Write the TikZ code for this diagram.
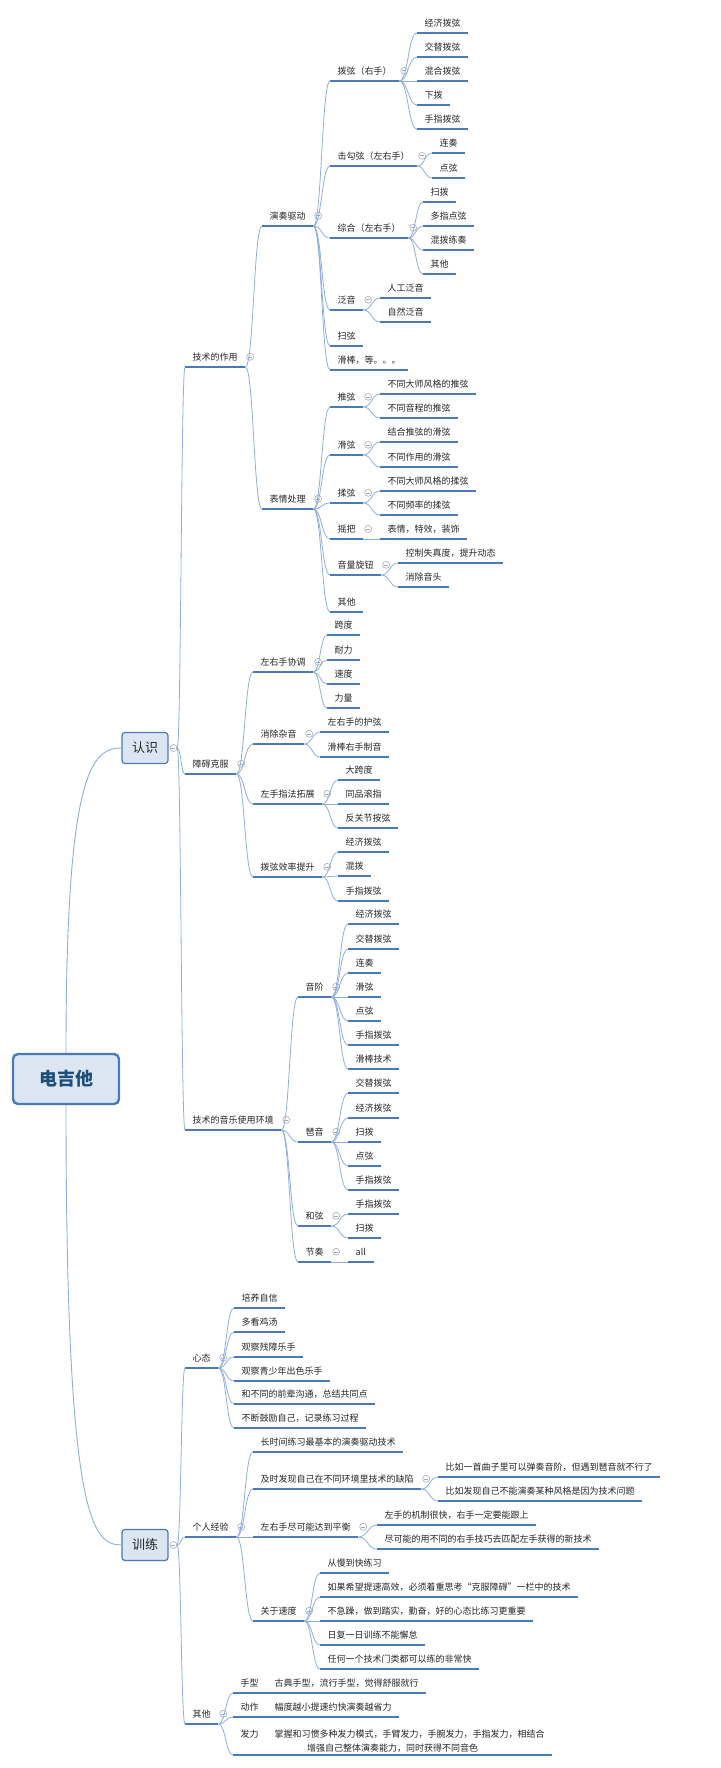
\documentclass[tikz,border=0pt]{standalone}
\usepackage{fontspec}
\newfontfamily\cjk{Noto Sans CJK SC}
\usetikzlibrary{calc}
\definecolor{Steel}{HTML}{4A7BB8}
\definecolor{Twig}{HTML}{8EAEDC}
\definecolor{Mist}{HTML}{DCE6F2}
\definecolor{Navy}{HTML}{1F4E79}
\definecolor{Ash}{HTML}{A3ABB8}
\definecolor{Ink}{HTML}{262626}

\begin{document}
\begin{tikzpicture}[x=1pt, y=-1pt,
    topic/.style={font=\cjk\fontsize{9}{14}\selectfont, text=Ink, anchor=south west,
      inner xsep=7.5pt, inner ysep=2pt, minimum height=20pt,
      append after command={(\tikzlastnode.south west) edge[uline] (\tikzlastnode.south east)}},
    uline/.style={draw=Steel, line width=2.5pt},
    fold/.style={circle, draw=Ash, fill=white, line width=0.6pt, inner sep=0pt, minimum size=7pt,
      path picture={\draw[Ash, line width=0.6pt] ([xshift=-2pt]path picture bounding box.center) -- ([xshift=2pt]path picture bounding box.center);}},
    parent/.style={label={[fold, label distance=1pt]0:{}}},
    rootbox/.style={draw=Steel, line width=2.4pt, fill=Mist, rounded corners=5pt,
      minimum width=106pt, minimum height=50pt, text=Navy, font=\cjk\bfseries\fontsize{18}{20}\selectfont},
    section/.style={draw=Steel, line width=1.2pt, fill=Mist, rounded corners=3pt,
      minimum width=46pt, minimum height=31pt, text=Ink, font=\cjk\fontsize{13}{15}\selectfont},
    trunk/.style={draw=Twig, line width=0.9pt},
    branch/.style={draw=Twig, line width=0.8pt,
      to path={.. controls ($(\tikztostart)!0.5!(\tikztotarget |- \tikztostart)$) and ($(\tikztotarget)!0.5!(\tikztostart |- \tikztotarget)$) .. (\tikztotarget)}}
  ]
  \path[use as bounding box] (0,0) rectangle (720,1768);

  \node[rootbox] (guitar) at (66,1079) {电吉他};
  \node[section, label={[fold, label distance=1pt, name=knowf]0:{}}] (know) at (145,748) {认识};
  \node[section, label={[fold, label distance=1pt, name=trainf]0:{}}] (train) at (145,1545) {训练};

  \node[topic, parent] (role) at (185,367) {技术的作用};
  \node[topic, parent] (hurdle) at (185,774) {障碍克服};
  \node[topic, parent] (context) at (185,1130) {技术的音乐使用环境};

  \node[topic, parent] (drive) at (262,226) {演奏驱动};
  \node[topic, parent] (expr) at (262,509) {表情处理};

  \node[topic, parent] (pick) at (330,81) {拨弦（右手）};
  \node[topic, parent] (hammer) at (330,166) {击勾弦（左右手）};
  \node[topic, parent] (combo) at (330,238) {综合（左右手）};
  \node[topic, parent] (harm) at (330,310) {泛音};
  \node[topic] (sweep) at (330,346) {扫弦};
  \node[topic] (slide) at (330,370) {滑棒，等。。。};

  \node[topic] (pick1) at (417,33) {经济拨弦};
  \node[topic] (pick2) at (417,57) {交替拨弦};
  \node[topic] (pick3) at (417,81) {混合拨弦};
  \node[topic] (pick4) at (417,105) {下拨};
  \node[topic] (pick5) at (417,129) {手指拨弦};
  \node[topic] (ham1) at (432,153) {连奏};
  \node[topic] (ham2) at (432,178) {点弦};
  \node[topic] (combo1) at (423,202) {扫拨};
  \node[topic] (combo2) at (423,226) {多指点弦};
  \node[topic] (combo3) at (423,250) {混拨练奏};
  \node[topic] (combo4) at (423,274) {其他};
  \node[topic] (harm1) at (380,298) {人工泛音};
  \node[topic] (harm2) at (380,322) {自然泛音};

  \node[topic, parent] (bend) at (330,407) {推弦};
  \node[topic, parent] (glide) at (330,455) {滑弦};
  \node[topic, parent] (vib) at (330,503) {揉弦};
  \node[topic, parent] (bar) at (330,539) {摇把};
  \node[topic, parent] (vol) at (330,575) {音量旋钮};
  \node[topic] (exother) at (330,612) {其他};

  \node[topic] (bend1) at (380,394) {不同大师风格的推弦};
  \node[topic] (bend2) at (380,418) {不同音程的推弦};
  \node[topic] (glide1) at (380,442) {结合推弦的滑弦};
  \node[topic] (glide2) at (380,467) {不同作用的滑弦};
  \node[topic] (vib1) at (380,491) {不同大师风格的揉弦};
  \node[topic] (vib2) at (380,515) {不同频率的揉弦};
  \node[topic] (bar1) at (380,539) {表情，特效，装饰};
  \node[topic] (vol1) at (398,563) {控制失真度，提升动态};
  \node[topic] (vol2) at (398,587) {消除音头};

  \node[topic, parent] (sync) at (253,672) {左右手协调};
  \node[topic, parent] (mute) at (253,744) {消除杂音};
  \node[topic, parent] (lhand) at (253,804) {左手指法拓展};
  \node[topic, parent] (rate) at (253,877) {拨弦效率提升};

  \node[topic] (sync1) at (327,635) {跨度};
  \node[topic] (sync2) at (327,660) {耐力};
  \node[topic] (sync3) at (327,684) {速度};
  \node[topic] (sync4) at (327,708) {力量};
  \node[topic] (mute1) at (320,732) {左右手的护弦};
  \node[topic] (mute2) at (320,757) {滑棒右手制音};
  \node[topic] (lhand1) at (338,780) {大跨度};
  \node[topic] (lhand2) at (338,804) {同品滚指};
  \node[topic] (lhand3) at (338,828) {反关节按弦};
  \node[topic] (rate1) at (338,852) {经济拨弦};
  \node[topic] (rate2) at (338,876) {混拨};
  \node[topic] (rate3) at (338,901) {手指拨弦};

  \node[topic, parent] (scale) at (298,997) {音阶};
  \node[topic, parent] (arp) at (298,1142) {琶音};
  \node[topic, parent] (chord) at (298,1226) {和弦};
  \node[topic, parent] (rhythm) at (298,1262) {节奏};

  \node[topic] (scale1) at (348,924) {经济拨弦};
  \node[topic] (scale2) at (348,949) {交替拨弦};
  \node[topic] (scale3) at (348,973) {连奏};
  \node[topic] (scale4) at (348,997) {滑弦};
  \node[topic] (scale5) at (348,1021) {点弦};
  \node[topic] (scale6) at (348,1045) {手指拨弦};
  \node[topic] (scale7) at (348,1069) {滑棒技术};
  \node[topic] (arp1) at (348,1093) {交替拨弦};
  \node[topic] (arp2) at (348,1118) {经济拨弦};
  \node[topic] (arp3) at (348,1142) {扫拨};
  \node[topic] (arp4) at (348,1166) {点弦};
  \node[topic] (arp5) at (348,1190) {手指拨弦};
  \node[topic] (chord1) at (348,1214) {手指拨弦};
  \node[topic] (chord2) at (348,1238) {扫拨};
  \node[topic] (rhythm1) at (348,1262) {all};

  \node[topic, parent] (mind) at (185,1368) {心态};
  \node[topic, parent] (exp) at (185,1537) {个人经验};
  \node[topic, parent] (misc) at (185,1724) {其他};

  \node[topic] (mind1) at (234,1308) {培养自信};
  \node[topic] (mind2) at (234,1332) {多看鸡汤};
  \node[topic] (mind3) at (234,1357) {观察残障乐手};
  \node[topic] (mind4) at (234,1381) {观察青少年出色乐手};
  \node[topic] (mind5) at (234,1404) {和不同的前辈沟通，总结共同点};
  \node[topic] (mind6) at (234,1428) {不断鼓励自己，记录练习过程};

  \node[topic] (exp1) at (253,1452) {长时间练习最基本的演奏驱动技术};
  \node[topic, parent] (exp2) at (253,1489) {及时发现自己在不同环境里技术的缺陷};
  \node[topic, parent] (exp3) at (253,1537) {左右手尽可能达到平衡};
  \node[topic, parent] (exp4) at (253,1621) {关于速度};

  \node[topic] (flaw1) at (438,1477) {比如一首曲子里可以弹奏音阶，但遇到琶音就不行了};
  \node[topic] (flaw2) at (438,1501) {比如发现自己不能演奏某种风格是因为技术问题};
  \node[topic] (bal1) at (377,1525) {左手的机制很快，右手一定要能跟上};
  \node[topic] (bal2) at (377,1549) {尽可能的用不同的右手技巧去匹配左手获得的新技术};
  \node[topic] (speed1) at (320,1573) {从慢到快练习};
  \node[topic] (speed2) at (320,1597) {如果希望提速高效，必须着重思考“克服障碍”一栏中的技术};
  \node[topic] (speed3) at (320,1621) {不急躁，做到踏实，勤奋，好的心态比练习更重要};
  \node[topic] (speed4) at (320,1645) {日复一日训练不能懈怠};
  \node[topic] (speed5) at (320,1669) {任何一个技术门类都可以练的非常快};

  \node[topic] (misc1) at (233,1693) {手型\hspace{16pt}古典手型，流行手型，觉得舒服就行};
  \node[topic] (misc2) at (233,1717) {动作\hspace{16pt}幅度越小提速约快演奏越省力};
  \node[topic, align=center] (misc3) at (233,1755) {发力\hspace{16pt}掌握和习惯多种发力模式，手臂发力，手腕发力，手指发力，相结合\\增强自己整体演奏能力，同时获得不同音色};

  \draw[trunk] (guitar.north) .. controls +(0,-280) and +(-30,0) .. (know.west);
  \draw[trunk] (guitar.south) .. controls +(0,410) and +(-30,0) .. (train.west);

  \draw[branch] (knowf.east) to (role.south west);
  \draw[branch] (knowf.east) to (hurdle.south west);
  \draw[branch] (knowf.east) to (context.south west);

  \draw[branch] (role.south east) to (drive.south west);
  \draw[branch] (role.south east) to (expr.south west);

  \draw[branch] (drive.south east) to (pick.south west);
  \draw[branch] (drive.south east) to (hammer.south west);
  \draw[branch] (drive.south east) to (combo.south west);
  \draw[branch] (drive.south east) to (harm.south west);
  \draw[branch] (drive.south east) to (sweep.south west);
  \draw[branch] (drive.south east) to (slide.south west);

  \draw[branch] (pick.south east) to (pick1.south west);
  \draw[branch] (pick.south east) to (pick2.south west);
  \draw[branch] (pick.south east) to (pick3.south west);
  \draw[branch] (pick.south east) to (pick4.south west);
  \draw[branch] (pick.south east) to (pick5.south west);
  \draw[branch] (hammer.south east) to (ham1.south west);
  \draw[branch] (hammer.south east) to (ham2.south west);
  \draw[branch] (combo.south east) to (combo1.south west);
  \draw[branch] (combo.south east) to (combo2.south west);
  \draw[branch] (combo.south east) to (combo3.south west);
  \draw[branch] (combo.south east) to (combo4.south west);
  \draw[branch] (harm.south east) to (harm1.south west);
  \draw[branch] (harm.south east) to (harm2.south west);

  \draw[branch] (expr.south east) to (bend.south west);
  \draw[branch] (expr.south east) to (glide.south west);
  \draw[branch] (expr.south east) to (vib.south west);
  \draw[branch] (expr.south east) to (bar.south west);
  \draw[branch] (expr.south east) to (vol.south west);
  \draw[branch] (expr.south east) to (exother.south west);

  \draw[branch] (bend.south east) to (bend1.south west);
  \draw[branch] (bend.south east) to (bend2.south west);
  \draw[branch] (glide.south east) to (glide1.south west);
  \draw[branch] (glide.south east) to (glide2.south west);
  \draw[branch] (vib.south east) to (vib1.south west);
  \draw[branch] (vib.south east) to (vib2.south west);
  \draw[branch] (bar.south east) to (bar1.south west);
  \draw[branch] (vol.south east) to (vol1.south west);
  \draw[branch] (vol.south east) to (vol2.south west);

  \draw[branch] (hurdle.south east) to (sync.south west);
  \draw[branch] (hurdle.south east) to (mute.south west);
  \draw[branch] (hurdle.south east) to (lhand.south west);
  \draw[branch] (hurdle.south east) to (rate.south west);

  \draw[branch] (sync.south east) to (sync1.south west);
  \draw[branch] (sync.south east) to (sync2.south west);
  \draw[branch] (sync.south east) to (sync3.south west);
  \draw[branch] (sync.south east) to (sync4.south west);
  \draw[branch] (mute.south east) to (mute1.south west);
  \draw[branch] (mute.south east) to (mute2.south west);
  \draw[branch] (lhand.south east) to (lhand1.south west);
  \draw[branch] (lhand.south east) to (lhand2.south west);
  \draw[branch] (lhand.south east) to (lhand3.south west);
  \draw[branch] (rate.south east) to (rate1.south west);
  \draw[branch] (rate.south east) to (rate2.south west);
  \draw[branch] (rate.south east) to (rate3.south west);

  \draw[branch] (context.south east) to (scale.south west);
  \draw[branch] (context.south east) to (arp.south west);
  \draw[branch] (context.south east) to (chord.south west);
  \draw[branch] (context.south east) to (rhythm.south west);

  \draw[branch] (scale.south east) to (scale1.south west);
  \draw[branch] (scale.south east) to (scale2.south west);
  \draw[branch] (scale.south east) to (scale3.south west);
  \draw[branch] (scale.south east) to (scale4.south west);
  \draw[branch] (scale.south east) to (scale5.south west);
  \draw[branch] (scale.south east) to (scale6.south west);
  \draw[branch] (scale.south east) to (scale7.south west);
  \draw[branch] (arp.south east) to (arp1.south west);
  \draw[branch] (arp.south east) to (arp2.south west);
  \draw[branch] (arp.south east) to (arp3.south west);
  \draw[branch] (arp.south east) to (arp4.south west);
  \draw[branch] (arp.south east) to (arp5.south west);
  \draw[branch] (chord.south east) to (chord1.south west);
  \draw[branch] (chord.south east) to (chord2.south west);
  \draw[branch] (rhythm.south east) to (rhythm1.south west);

  \draw[branch] (trainf.east) to (mind.south west);
  \draw[branch] (trainf.east) to (exp.south west);
  \draw[branch] (trainf.east) to (misc.south west);

  \draw[branch] (mind.south east) to (mind1.south west);
  \draw[branch] (mind.south east) to (mind2.south west);
  \draw[branch] (mind.south east) to (mind3.south west);
  \draw[branch] (mind.south east) to (mind4.south west);
  \draw[branch] (mind.south east) to (mind5.south west);
  \draw[branch] (mind.south east) to (mind6.south west);

  \draw[branch] (exp.south east) to (exp1.south west);
  \draw[branch] (exp.south east) to (exp2.south west);
  \draw[branch] (exp.south east) to (exp3.south west);
  \draw[branch] (exp.south east) to (exp4.south west);

  \draw[branch] (exp2.south east) to (flaw1.south west);
  \draw[branch] (exp2.south east) to (flaw2.south west);
  \draw[branch] (exp3.south east) to (bal1.south west);
  \draw[branch] (exp3.south east) to (bal2.south west);
  \draw[branch] (exp4.south east) to (speed1.south west);
  \draw[branch] (exp4.south east) to (speed2.south west);
  \draw[branch] (exp4.south east) to (speed3.south west);
  \draw[branch] (exp4.south east) to (speed4.south west);
  \draw[branch] (exp4.south east) to (speed5.south west);

  \draw[branch] (misc.south east) to (misc1.south west);
  \draw[branch] (misc.south east) to (misc2.south west);
  \draw[branch] (misc.south east) to (misc3.south west);
\end{tikzpicture}
\end{document}
